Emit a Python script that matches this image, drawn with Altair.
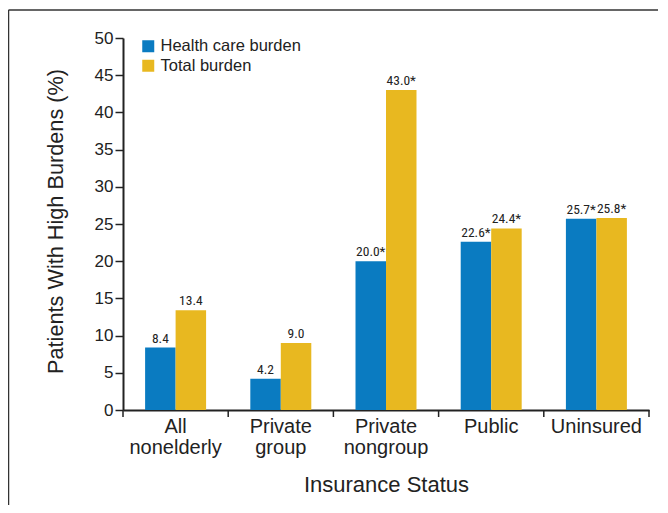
import altair as alt
import pandas as pd

categories = ["All\nnonelderly", "Private\ngroup", "Private\nnongroup", "Public", "Uninsured"]
series_names = ["Health care burden", "Total burden"]
health = [8.4, 4.2, 20.0, 22.6, 25.7]
total = [13.4, 9.0, 43.0, 24.4, 25.8]
health_sig = [False, False, True, True, True]
total_sig = [False, False, True, True, True]
colors = ["#0a7bc1", "#e8b820"]
y_ticks = [0, 5, 10, 15, 20, 25, 30, 35, 40, 45, 50]

rows = []
for c, h, t, hs, ts in zip(categories, health, total, health_sig, total_sig):
    rows.append({"cat": c, "series": series_names[0], "value": h,
                 "label": f"{h:.1f}" + ("*" if hs else "")})
    rows.append({"cat": c, "series": series_names[1], "value": t,
                 "label": f"{t:.1f}" + ("*" if ts else "")})
df = pd.DataFrame(rows)

W, H = 526, 372
FONT = "Liberation Sans"
NARROW = "Liberation Sans Narrow, Roboto Condensed, DejaVu Sans Condensed, sans-serif"
X_TITLE = "Insurance Status"
Y_TITLE = "Patients With High Burdens (%)"

x_axis = alt.Axis(labelExpr="split(datum.label, '\\n')", labelAngle=0,
                  labelFontSize=20, labelLineHeight=21, labelColor="#222",
                  labelPadding=6, ticks=False, domainColor="#222",
                  domainWidth=2, titleFontSize=22, titleFontWeight="normal",
                  titleColor="#222", titleY=74, titleBaseline="middle")
y_axis = alt.Axis(values=y_ticks, labelFontSize=17, labelColor="#222",
                  tickSize=8, tickColor="#222", tickWidth=1.5,
                  labelPadding=2, domainColor="#222", domainWidth=2,
                  grid=False, titleFontSize=21.7, titleFontWeight="normal",
                  titleColor="#222", titleX=-68, titleY=H / 2 - 3,
                  titleAngle=-90, titleBaseline="middle")
x_scale = alt.Scale(paddingInner=0, paddingOuter=0)
y_scale = alt.Scale(domain=[0, 50], nice=False)

xenc = alt.X("cat:N", sort=categories, title=X_TITLE, scale=x_scale, axis=x_axis)
xoff = alt.XOffset("series:N", sort=series_names,
                   scale=alt.Scale(paddingOuter=0.725, paddingInner=0))
yenc = alt.Y("value:Q", title=Y_TITLE, scale=y_scale, axis=y_axis)

bars = alt.Chart(df).mark_bar().encode(
    x=xenc, xOffset=xoff, y=yenc,
    color=alt.Color("series:N", sort=series_names,
                    scale=alt.Scale(domain=series_names, range=colors),
                    legend=alt.Legend(orient="none", legendX=17, legendY=0, title=None,
                                      symbolType="square", symbolSize=144,
                                      symbolStrokeWidth=0, labelFontSize=16.5,
                                      labelColor="#222", labelOffset=4,
                                      rowPadding=2.5, padding=0)),
)

texts = alt.Chart(df).mark_text(dy=-5, baseline="alphabetic", fontSize=13.5,
                                font=NARROW, color="#222").encode(
    x=xenc, xOffset=xoff, y=yenc, text="label:N")

ticks = alt.Chart(pd.DataFrame({"cat": categories})).mark_rule(
    color="#222", strokeWidth=1.5).encode(
    x=alt.X("cat:N", sort=categories, bandPosition=0, axis=x_axis, title=X_TITLE,
            scale=x_scale),
    y=alt.value(H), y2=alt.value(H + 7))

end_tick = alt.Chart(pd.DataFrame({"a": [0]})).mark_rule(
    color="#222", strokeWidth=1.5).encode(
    x=alt.value(W), y=alt.value(H), y2=alt.value(H + 7))

frame_top = alt.Chart(pd.DataFrame({"a": [0]})).mark_rule(
    color="#333", strokeWidth=1.5, clip=False).encode(
    x=alt.value(-114.5), x2=alt.value(700), y=alt.value(-28))
frame_left = alt.Chart(pd.DataFrame({"a": [0]})).mark_rule(
    color="#333", strokeWidth=1.5, clip=False).encode(
    x=alt.value(-114.5), y=alt.value(-28), y2=alt.value(700))

chart = alt.layer(frame_top, frame_left, bars, texts, ticks, end_tick).properties(
    width=W, height=H,
    autosize=alt.AutoSizeParams(type="none"),
    padding={"left": 115, "top": 30, "right": 9, "bottom": 95},
).configure(font=FONT).configure_view(stroke=None)

chart.save("out.html", embed_options={"renderer": "svg", "actions": False})
